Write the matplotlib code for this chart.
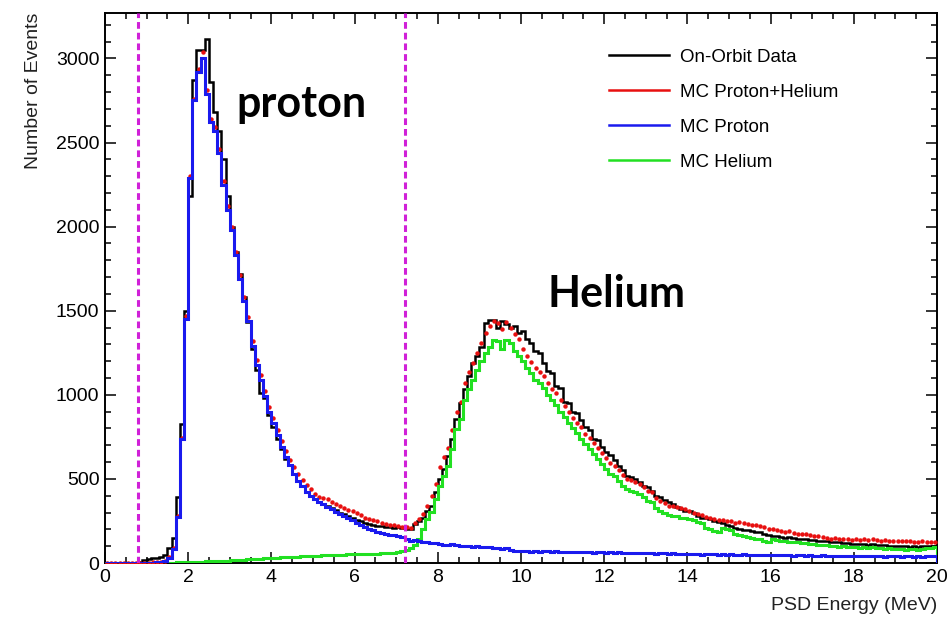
"""PSD energy spectrum: on-orbit data vs MC proton / helium."""

import matplotlib

matplotlib.use("Agg")
import matplotlib.pyplot as plt
import numpy as np
from matplotlib.lines import Line2D
from matplotlib.ticker import MultipleLocator

# 0.1 MeV bins from 0 to 20 MeV, one row per MeV
data_counts = [
    0, 0, 0, 0, 0, 0, 0, 3, 8, 15,
    22, 28, 32, 38, 45, 90, 148, 391, 824, 1500,
    2180, 2870, 3050, 3050, 3115, 2860, 2680, 2570, 2400, 2180,
    2000, 1850, 1720, 1580, 1430, 1270, 1150, 1013, 980, 880,
    810, 740, 680, 617, 580, 530, 490, 455, 420, 400,
    380, 365, 352, 340, 325, 315, 300, 290, 280, 270,
    258, 248, 240, 232, 228, 222, 218, 215, 212, 210,
    213, 208, 200, 205, 230, 250, 270, 310, 340, 420,
    498, 560, 634, 740, 854, 950, 1032, 1110, 1190, 1230,
    1287, 1429, 1447, 1445, 1400, 1440, 1420, 1400, 1410, 1370,
    1380, 1330, 1310, 1260, 1250, 1190, 1140, 1130, 1050, 1040,
    960, 950, 900, 890, 850, 810, 790, 740, 730, 690,
    660, 640, 610, 575, 555, 520, 510, 498, 480, 460,
    450, 430, 400, 395, 375, 362, 350, 332, 320, 312,
    308, 295, 279, 270, 265, 261, 250, 243, 235, 225,
    219, 210, 202, 198, 195, 190, 186, 184, 175, 165,
    160, 158, 155, 150, 152, 148, 145, 142, 142, 138,
    135, 132, 130, 128, 125, 124, 122, 120, 118, 115,
    115, 113, 112, 110, 113, 108, 105, 106, 104, 102,
    100, 102, 101, 98, 100, 97, 99, 100, 102, 100,
]

mc_sum = [
    0, 0, 0, 0, 0, 0, 0, 0, 0, 0,
    2, 4, 5, 8, 12, 35, 88, 280, 745, 1470,
    2300, 2760, 2940, 3040, 2810, 2640, 2590, 2460, 2270, 2120,
    2000, 1850, 1710, 1580, 1465, 1320, 1205, 1115, 1020, 930,
    860, 790, 725, 665, 615, 570, 530, 495, 465, 440,
    410, 395, 385, 379, 365, 350, 340, 325, 318, 310,
    300, 285, 270, 261, 255, 248, 240, 231, 228, 224,
    218, 215, 212, 210, 235, 260, 290, 340, 400, 470,
    569, 630, 683, 792, 899, 957, 1072, 1136, 1189, 1250,
    1310, 1370, 1410, 1440, 1425, 1390, 1430, 1400, 1360, 1330,
    1270, 1232, 1198, 1160, 1136, 1111, 1069, 1035, 1010, 967,
    936, 898, 864, 835, 807, 768, 746, 712, 684, 655,
    622, 594, 575, 553, 521, 498, 492, 480, 467, 454,
    428, 420, 386, 367, 359, 340, 337, 334, 326, 320,
    310, 300, 290, 285, 275, 268, 262, 258, 255, 250,
    250, 240, 245, 238, 230, 225, 228, 220, 212, 205,
    200, 195, 190, 185, 188, 180, 175, 172, 170, 165,
    160, 158, 155, 150, 145, 148, 142, 145, 140, 138,
    142, 138, 140, 136, 142, 135, 132, 134, 130, 133,
    130, 132, 128, 130, 127, 126, 128, 124, 125, 124,
]

mc_proton = [
    0, 0, 0, 0, 0, 0, 0, 0, 0, 0,
    2, 3, 4, 6, 10, 30, 83, 273, 735, 1450,
    2290, 2750, 2920, 3005, 2790, 2620, 2570, 2440, 2250, 2100,
    1980, 1830, 1690, 1560, 1440, 1290, 1180, 1090, 990, 900,
    830, 760, 690, 630, 580, 530, 490, 455, 425, 400,
    380, 365, 350, 335, 320, 305, 290, 280, 268, 255,
    240, 225, 212, 202, 195, 186, 180, 172, 168, 165,
    160, 155, 145, 130, 135, 128, 122, 125, 118, 120,
    112, 110, 108, 112, 105, 103, 100, 104, 98, 100,
    96, 93, 95, 88, 90, 85, 88, 75, 72, 74,
    70, 72, 68, 70, 66, 71, 69, 65, 70, 67,
    66, 68, 64, 65, 67, 63, 66, 62, 64, 65,
    62, 64, 60, 63, 61, 58, 62, 60, 57, 59,
    58, 60, 56, 57, 59, 55, 57, 54, 56, 55,
    54, 52, 55, 50, 53, 51, 54, 49, 52, 50,
    52, 50, 49, 51, 48, 50, 47, 49, 46, 48,
    45, 47, 50, 48, 46, 44, 47, 45, 43, 46,
    44, 42, 45, 43, 41, 44, 42, 40, 43, 41,
    42, 40, 43, 41, 39, 42, 40, 38, 41, 39,
    40, 38, 41, 39, 37, 40, 38, 41, 39, 40,
]

mc_helium = [
    0, 0, 0, 0, 0, 0, 0, 0, 0, 0,
    0, 1, 1, 2, 2, 3, 3, 4, 4, 5,
    5, 6, 7, 8, 9, 10, 11, 12, 13, 14,
    15, 16, 18, 19, 21, 22, 24, 25, 27, 28,
    30, 31, 33, 34, 35, 36, 38, 39, 40, 42,
    43, 44, 45, 47, 46, 48, 50, 49, 51, 52,
    53, 52, 54, 55, 56, 55, 57, 58, 60, 62,
    65, 70, 80, 88, 110, 142, 200, 260, 302, 380,
    457, 520, 575, 680, 794, 854, 972, 1032, 1091, 1150,
    1200, 1250, 1286, 1328, 1320, 1270, 1328, 1310, 1260, 1230,
    1200, 1160, 1130, 1090, 1070, 1040, 1000, 970, 940, 900,
    870, 830, 800, 770, 740, 705, 680, 650, 620, 590,
    560, 530, 515, 490, 460, 440, 430, 420, 410, 395,
    370, 360, 330, 310, 300, 285, 280, 280, 270, 265,
    260, 255, 245, 240, 210, 205, 190, 185, 210, 200,
    195, 175, 165, 160, 155, 150, 145, 140, 130, 125,
    140, 135, 132, 128, 125, 122, 125, 120, 118, 115,
    112, 110, 105, 108, 102, 100, 98, 100, 95, 97,
    95, 92, 95, 90, 93, 90, 88, 85, 88, 84,
    85, 82, 80, 84, 82, 80, 85, 90, 92, 95,
]

cut_lines = [0.79, 7.2]

plt.rcParams["font.family"] = ["Liberation Sans", "DejaVu Sans"]

edges = np.linspace(0, 20, len(data_counts) + 1)
centers = 0.5 * (edges[:-1] + edges[1:])

fig = plt.figure(figsize=(9.49, 6.23), dpi=100)
ax = fig.add_axes([0.1106, 0.0963, 0.8768, 0.8828])

ax.stairs(data_counts, edges, color="black", lw=1.8, zorder=2)
ax.plot(centers, mc_sum, ls="none", marker="o", ms=3.2, mew=0,
        color="#e81010", zorder=3)
ax.stairs(mc_helium, edges, color="#22e022", lw=2.2, zorder=4)
ax.stairs(mc_proton, edges, color="#1a1aee", lw=2.2, zorder=5)

for xc in cut_lines:
    ax.axvline(xc, color="#d020d8", lw=2.2, ls=(0, (2.2, 1.3)), zorder=6)

ax.set_xlim(0, 20)
ax.set_ylim(0, 3270)
ax.xaxis.set_major_locator(MultipleLocator(2))
ax.xaxis.set_minor_locator(MultipleLocator(0.5))
ax.yaxis.set_major_locator(MultipleLocator(500))
ax.yaxis.set_minor_locator(MultipleLocator(100))
ax.tick_params(which="both", direction="in", top=True, right=True,
               labelsize=14, width=1.1)
ax.tick_params(which="major", length=8, pad=4)
ax.tick_params(which="minor", length=4)
for sp in ax.spines.values():
    sp.set_linewidth(1.4)

ax.set_xlabel("PSD Energy (MeV)", fontsize=14, loc="right", labelpad=8,
              color="#222222")
ax.set_ylabel("Number of Events", fontsize=14, loc="top", labelpad=10,
              color="#222222")

ax.text(3.17, 2650, "proton", fontsize=31, fontweight="bold",
        family="Lato", ha="left", va="baseline")
ax.text(10.63, 1520, "Helium", fontsize=31, fontweight="bold",
        family="Lato", ha="left", va="baseline")

handles = [
    Line2D([], [], color="black", lw=1.8),
    Line2D([], [], color="#e81010", lw=1.8),
    Line2D([], [], color="#1a1aee", lw=1.8),
    Line2D([], [], color="#22e022", lw=1.8),
]
labels = ["On-Orbit Data", "MC Proton+Helium", "MC Proton", "MC Helium"]
ax.legend(handles, labels, loc="upper left", bbox_to_anchor=(0.585, 0.966),
          frameon=False, fontsize=13.5, handlelength=3.2, handletextpad=0.6,
          labelspacing=0.95)

fig.savefig("out.png", dpi=100)
